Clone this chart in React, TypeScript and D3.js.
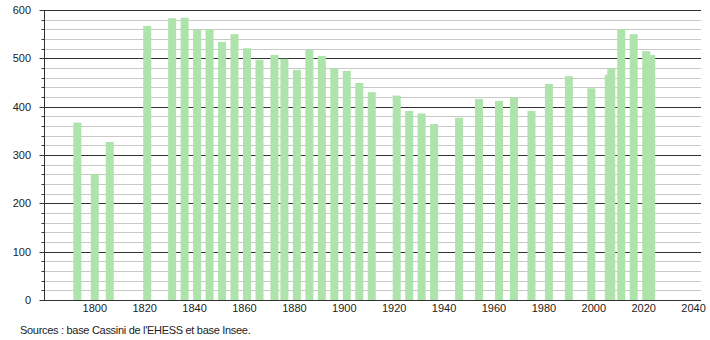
import React from "react";
import * as d3 from "d3";

const years = [1793, 1800, 1806, 1821, 1831, 1836, 1841, 1846, 1851, 1856, 1861, 1866, 1872, 1876, 1881, 1886, 1891, 1896, 1901, 1906, 1911, 1921, 1926, 1931, 1936, 1946, 1954, 1962, 1968, 1975, 1982, 1990, 1999, 2006, 2007, 2011, 2016, 2021, 2023];
const population = [367, 261, 327, 567, 583, 584, 559, 560, 534, 550, 521, 497, 507, 499, 476, 518, 505, 479, 474, 449, 430, 423, 391, 386, 364, 377, 416, 412, 419, 391, 447, 463, 438, 466, 479, 560, 550, 515, 507];
const xTickYears = [1800, 1820, 1840, 1860, 1880, 1900, 1920, 1940, 1960, 1980, 2000, 2020, 2040];
const yMajor = [0, 100, 200, 300, 400, 500, 600];
const sourceText = "Sources : base Cassini de l'EHESS et base Insee.";

export default function App() {
  const W = 710, H = 340;
  const x = d3.scaleLinear().domain([1780, 2040]).range([44.9, 693.6]);
  const y = d3.scaleLinear().domain([0, 600]).range([300, 10]);
  const left = 44.5, right = 701;
  const minor = d3.range(0, 601, 20).filter((v) => v % 100 !== 0);
  const barW = 8;
  const font = "'Liberation Sans', Arial, sans-serif";
  return (
    <svg width={W} height={H} style={{ position: "absolute", left: 0, top: 0, background: "#fff" }} fontFamily={font}>
      {minor.map((v) => (
        <g key={"mi" + v}>
          <line x1={left} x2={right} y1={Math.round(y(v)) + 0.5} y2={Math.round(y(v)) + 0.5} stroke="#c8c8c8" strokeWidth={1} />
          <line x1={41.5} x2={left} y1={Math.round(y(v)) + 0.5} y2={Math.round(y(v)) + 0.5} stroke="#333" strokeWidth={1} />
        </g>
      ))}
      {yMajor.map((v) => (
        <g key={"ma" + v}>
          <line x1={left} x2={right} y1={Math.round(y(v)) + 0.5} y2={Math.round(y(v)) + 0.5} stroke="#333" strokeWidth={1} />
          <line x1={39.5} x2={left} y1={Math.round(y(v)) + 0.5} y2={Math.round(y(v)) + 0.5} stroke="#333" strokeWidth={1} />
          <text x={31} y={y(v)} dy="0.35em" textAnchor="end" fontSize={11} fill="#222">{v}</text>
        </g>
      ))}
      {years.map((yr, i) => (
        <rect key={yr} x={x(yr) - barW / 2} y={y(population[i])} width={barW} height={y(0) - y(population[i])} fill="#aee3ab" />
      ))}
      <line x1={left} x2={left} y1={10} y2={300.5} stroke="#333" strokeWidth={1} />
      <line x1={left} x2={right} y1={300.5} y2={300.5} stroke="#333" strokeWidth={1} />
      {xTickYears.map((t) => (
        <text key={t} x={x(t)} y={308.5} dy="0.35em" textAnchor="middle" fontSize={11} fill="#222">{t}</text>
      ))}
      <text x={20} y={330} dy="0.35em" fontSize={11} letterSpacing={-0.3} fill="#222">{sourceText}</text>
    </svg>
  );
}
